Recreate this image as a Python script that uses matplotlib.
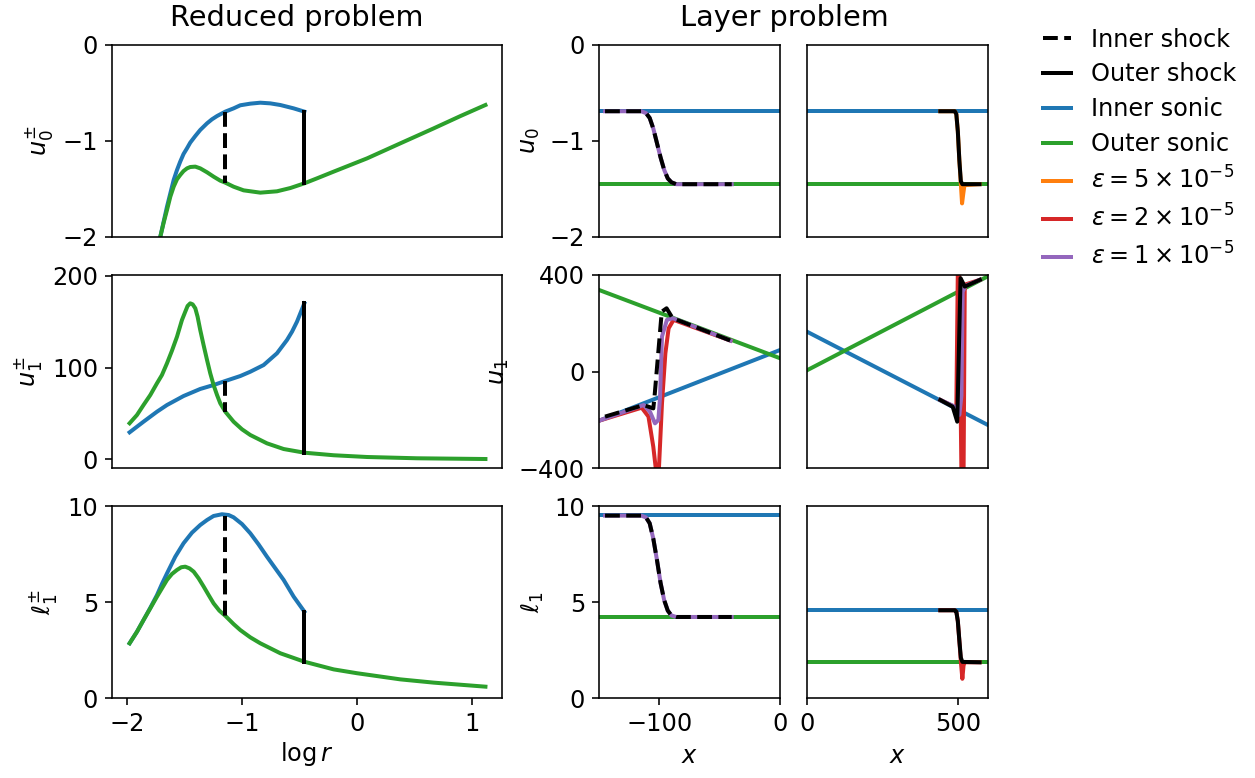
import matplotlib.pyplot as plt

plt.rcParams['font.size'] = 12
plt.rcParams['lines.linewidth'] = 2

# ---- reduced problem ----
shock_in = -1.145
shock_out = -0.458

# u0
lr_u0_in = [-1.75, -1.710, -1.681, -1.652, -1.623, -1.594, -1.565, -1.537, -1.508, -1.478,
            -1.450, -1.406, -1.363, -1.304, -1.261, -1.217, -1.189, -1.145, -1.073, -1.015,
            -0.928, -0.841, -0.754, -0.667, -0.551, -0.458]
u0_in = [-2.35, -1.997, -1.84, -1.684, -1.545, -1.406, -1.302, -1.215, -1.135, -1.076,
         -1.017, -0.948, -0.885, -0.816, -0.774, -0.740, -0.722, -0.694, -0.660, -0.628,
         -0.611, -0.601, -0.608, -0.625, -0.660, -0.694]
lr_u0_out = [-1.75, -1.710, -1.681, -1.652, -1.623, -1.594, -1.565, -1.537, -1.508, -1.478,
             -1.450, -1.406, -1.363, -1.304, -1.246, -1.189, -1.145, -1.073, -0.986, -0.841,
             -0.696, -0.580, -0.458, -0.348, -0.203, 0.087, 0.377, 0.667, 0.899, 1.116]
u0_out = [-2.3, -1.997, -1.851, -1.719, -1.580, -1.476, -1.399, -1.354, -1.313, -1.285,
          -1.271, -1.267, -1.285, -1.326, -1.372, -1.413, -1.434, -1.476, -1.514, -1.538,
          -1.524, -1.490, -1.441, -1.389, -1.319, -1.181, -1.024, -0.868, -0.740, -0.625]

# u1
lr_u1_in = [-1.977, -1.856, -1.739, -1.652, -1.508, -1.363, -1.247, -1.145, -1.015, -0.928,
            -0.812, -0.696, -0.609, -0.565, -0.522, -0.458]
u1_in = [29.4, 41.0, 51.9, 59.2, 69.0, 76.7, 81.0, 85.4, 90.8, 95.5,
         102.8, 115.6, 130.1, 139.2, 150.1, 170.1]
lr_u1_out = [-1.977, -1.913, -1.856, -1.797, -1.739, -1.696, -1.652, -1.609, -1.565, -1.522,
             -1.493, -1.473, -1.450, -1.429, -1.406, -1.386, -1.363, -1.334, -1.304, -1.276,
             -1.247, -1.217, -1.189, -1.145, -1.073, -1.0, -0.928, -0.783, -0.638, -0.458,
             -0.203, 0.087, 0.522, 1.116]
u1_out = [39.3, 48.3, 59.2, 70.1, 82.9, 91.9, 104.7, 118.4, 133.7, 151.9,
          161.0, 167.2, 170.1, 169.0, 164.7, 155.5, 141.0, 124.6, 108.3, 93.8,
          81.0, 70.1, 61.1, 51.9, 41.0, 32.7, 26.5, 17.4, 11.2, 7.2,
          4.4, 2.5, 1.1, 0.3]

# l1
lr_l1_in = [-1.977, -1.913, -1.856, -1.797, -1.739, -1.696, -1.652, -1.580, -1.508, -1.435,
            -1.363, -1.304, -1.247, -1.174, -1.116, -1.073, -1.0, -0.928, -0.856, -0.783,
            -0.710, -0.638, -0.551, -0.458]
l1_in = [2.85, 3.45, 4.06, 4.70, 5.36, 5.94, 6.49, 7.36, 8.06, 8.61,
         9.01, 9.27, 9.48, 9.57, 9.53, 9.41, 9.06, 8.58, 8.0, 7.36,
         6.75, 6.15, 5.28, 4.50]
lr_l1_out = [-1.977, -1.913, -1.856, -1.797, -1.739, -1.696, -1.652, -1.609, -1.565, -1.528,
             -1.493, -1.456, -1.420, -1.377, -1.333, -1.290, -1.247, -1.197, -1.145, -1.073,
             -1.015, -0.928, -0.841, -0.667, -0.458, -0.203, 0.0, 0.377, 0.667, 1.116]
l1_out = [2.85, 3.45, 4.06, 4.67, 5.28, 5.71, 6.15, 6.46, 6.67, 6.81,
          6.84, 6.75, 6.58, 6.23, 5.80, 5.36, 4.93, 4.55, 4.28, 3.85,
          3.54, 3.16, 2.85, 2.33, 1.89, 1.49, 1.29, 0.97, 0.80, 0.59]

# shock jumps (top, bottom)
u0_jump_in, u0_jump_out = [-0.694, -1.434], [-0.694, -1.441]
u1_jump_in, u1_jump_out = [85.4, 51.9], [170.1, 7.2]
l1_jump_in, l1_jump_out = [9.5, 4.28], [4.50, 1.89]

# ---- layer problem ----
# inner shock (x < 0)
xi_lim = [-150, 0]
u0_son_in, u0_son_out = -0.69, -1.45
l1_son_in_a, l1_son_out_a = 9.51, 4.22
u1_son_in_a = [-204, 89]
u1_son_out_a = [338, 55]

x_prof_a = [-145, -115, -111, -108, -105, -102, -99, -96, -93, -90, -86, -40]
u0_prof_a = [-0.69, -0.69, -0.71, -0.76, -0.87, -1.02, -1.17, -1.30, -1.39, -1.43, -1.45, -1.45]
l1_prof_a = [9.5, 9.5, 9.4, 9.1, 8.3, 7.2, 6.0, 5.1, 4.55, 4.3, 4.22, 4.22]

x_u1_a = [-145, -113, -105, -104, -98, -94, -89, -41]
u1_a = [-187, -139, -153, -105, 248, 262, 221, 128]
x_u1_red_a = [-150, -114.6, -109, -105, -102.3, -100.6, -97.8, -95, -92.3, -88.2, -41]
u1_red_a = [-204, -150, -187, -312, -430, -430, -132, 75, 179, 214, 128]
x_u1_pur_a = [-150, -113, -107.7, -103.6, -100.8, -99.4, -97.8, -93.7, -88.8, -41]
u1_pur_a = [-204, -139, -167, -215, -201, -105, 145, 214, 221, 128]

# outer shock (x > 0)
xo_lim = [0, 600]
l1_son_in_b, l1_son_out_b = 4.57, 1.86
u1_son_in_b = [165, -222]
u1_son_out_b = [5, 395]

x_prof_b = [442, 490, 495, 500, 505, 510, 515, 572]
u0_prof_b = [-0.69, -0.69, -0.72, -0.90, -1.20, -1.42, -1.45, -1.45]
l1_prof_b = [4.57, 4.57, 4.50, 4.00, 3.00, 2.10, 1.88, 1.86]
x_u0_org_b = [442, 490, 495, 500, 505, 510, 514, 518, 522, 572]
u0_org_b = [-0.69, -0.69, -0.72, -0.90, -1.20, -1.45, -1.65, -1.55, -1.46, -1.45]
x_l1_red_b = [442, 490, 495, 500, 505, 510, 515, 519, 523, 572]
l1_red_b = [4.57, 4.57, 4.50, 4.00, 3.00, 1.90, 1.00, 1.70, 1.86, 1.86]

x_u1_b = [442, 483, 498, 509, 523, 573]
u1_b = [-118, -146, -208, 387, 352, 380]
x_u1_red_b = [442, 495, 500, 504, 512, 519, 523, 573]
u1_red_b = [-118, -150, 420, 420, -430, -430, 360, 380]
x_u1_pur_b = [442, 498, 505, 512, 516, 525, 573]
u1_pur_b = [-118, -150, -180, -100, 330, 355, 380]

C_IN, C_OUT = 'C0', 'C2'
C_E5, C_E2, C_E1 = 'C1', 'C3', 'C4'

fig = plt.figure(figsize=(1255 / 144, 778 / 144), dpi=144)
W, H = 1255, 778


def box(l, t, r, b):
    return [l / W, 1 - b / H, (r - l) / W, (b - t) / H]


rows = [(45, 237), (275, 468), (506, 698)]
axL = [fig.add_axes(box(112, t, 502, b)) for t, b in rows]
axA = [fig.add_axes(box(599, t, 780, b)) for t, b in rows]
axB = [fig.add_axes(box(807, t, 988, b)) for t, b in rows]

# reduced problem
ax = axL[0]
ax.plot(lr_u0_in, u0_in, color=C_IN)
ax.plot(lr_u0_out, u0_out, color=C_OUT)
ax.plot([shock_in] * 2, u0_jump_in, 'k--')
ax.plot([shock_out] * 2, u0_jump_out, 'k-')
ax.set_ylim(-2, 0)
ax.set_yticks([-2, -1, 0])
ax.set_ylabel(r'$u_0^{\pm}$')

ax = axL[1]
ax.plot(lr_u1_in, u1_in, color=C_IN)
ax.plot(lr_u1_out, u1_out, color=C_OUT)
ax.plot([shock_in] * 2, u1_jump_in, 'k--')
ax.plot([shock_out] * 2, u1_jump_out, 'k-')
ax.set_ylim(-9.5, 201)
ax.set_yticks([0, 100, 200])
ax.set_ylabel(r'$u_1^{\pm}$')

ax = axL[2]
ax.plot(lr_l1_in, l1_in, color=C_IN)
ax.plot(lr_l1_out, l1_out, color=C_OUT)
ax.plot([shock_in] * 2, l1_jump_in, 'k--')
ax.plot([shock_out] * 2, l1_jump_out, 'k-')
ax.set_ylim(0, 10)
ax.set_yticks([0, 5, 10])
ax.set_ylabel(r'$\ell_1^{\pm}$')
ax.set_xlabel(r'$\log r$', labelpad=2)

for ax in axL:
    ax.set_xlim(-2.13, 1.26)
    ax.set_xticks([-2, -1, 0, 1])
for ax in axL[:2]:
    ax.tick_params(bottom=False, labelbottom=False)

# layer problem, inner shock
ax = axA[0]
ax.axhline(u0_son_in, color=C_IN)
ax.axhline(u0_son_out, color=C_OUT)
ax.plot(x_prof_a, u0_prof_a, color=C_E1)
ax.plot(x_prof_a, u0_prof_a, 'k--')
ax.set_ylim(-2, 0)
ax.set_yticks([-2, -1, 0])
ax.set_ylabel(r'$u_0$')

ax = axA[1]
ax.plot(xi_lim, u1_son_in_a, color=C_IN)
ax.plot(xi_lim, u1_son_out_a, color=C_OUT)
ax.plot(x_u1_red_a, u1_red_a, color=C_E2)
ax.plot(x_u1_pur_a, u1_pur_a, color=C_E1)
ax.plot(x_u1_a, u1_a, 'k--')
ax.set_ylim(-400, 400)
ax.set_yticks([-400, 0, 400])
ax.set_ylabel(r'$u_1$')

ax = axA[2]
ax.axhline(l1_son_in_a, color=C_IN)
ax.axhline(l1_son_out_a, color=C_OUT)
ax.plot(x_prof_a, l1_prof_a, color=C_E1)
ax.plot(x_prof_a, l1_prof_a, 'k--')
ax.set_ylim(0, 10)
ax.set_yticks([0, 5, 10])
ax.set_ylabel(r'$\ell_1$')
ax.set_xlabel(r'$x$')

for ax in axA:
    ax.set_xlim(xi_lim)
    ax.set_xticks([-100, 0])
for ax in axA[:2]:
    ax.tick_params(bottom=False, labelbottom=False)

# layer problem, outer shock
ax = axB[0]
ax.axhline(u0_son_in, color=C_IN)
ax.axhline(u0_son_out, color=C_OUT)
ax.plot(x_u0_org_b, u0_org_b, color=C_E5)
ax.plot(x_prof_b, u0_prof_b, 'k-')
ax.set_ylim(-2, 0)

ax = axB[1]
ax.plot(xo_lim, u1_son_in_b, color=C_IN)
ax.plot(xo_lim, u1_son_out_b, color=C_OUT)
ax.plot(x_u1_red_b, u1_red_b, color=C_E2)
ax.plot(x_u1_pur_b, u1_pur_b, color=C_E1)
ax.plot(x_u1_b, u1_b, 'k-')
ax.set_ylim(-400, 400)

ax = axB[2]
ax.axhline(l1_son_in_b, color=C_IN)
ax.axhline(l1_son_out_b, color=C_OUT)
ax.plot(x_l1_red_b, l1_red_b, color=C_E2)
ax.plot(x_prof_b, l1_prof_b, 'k-')
ax.set_ylim(0, 10)
ax.set_xlabel(r'$x$')

for ax in axB:
    ax.set_xlim(xo_lim)
    ax.set_xticks([0, 500])
    ax.tick_params(left=False, labelleft=False)
for ax in axB[:2]:
    ax.tick_params(bottom=False, labelbottom=False)

fig.text(297 / W, 1 - 18 / H, 'Reduced problem', fontsize='large', ha='center', va='center')
fig.text(784 / W, 1 - 18 / H, 'Layer problem', fontsize='large', ha='center', va='center')

handles = [
    plt.Line2D([], [], color='k', ls='--'),
    plt.Line2D([], [], color='k', ls='-'),
    plt.Line2D([], [], color=C_IN),
    plt.Line2D([], [], color=C_OUT),
    plt.Line2D([], [], color=C_E5),
    plt.Line2D([], [], color=C_E2),
    plt.Line2D([], [], color=C_E1),
]
labels = ['Inner shock', 'Outer shock', 'Inner sonic', 'Outer sonic',
          r'$\epsilon = 5\times10^{-5}$', r'$\epsilon = 2\times10^{-5}$',
          r'$\epsilon = 1\times10^{-5}$']
fig.legend(handles, labels, loc='upper left', bbox_to_anchor=(1021 / W, 1 - 6 / H),
           frameon=False, handlelength=1.2, labelspacing=0.45)

fig.savefig('out.png', dpi=144)
